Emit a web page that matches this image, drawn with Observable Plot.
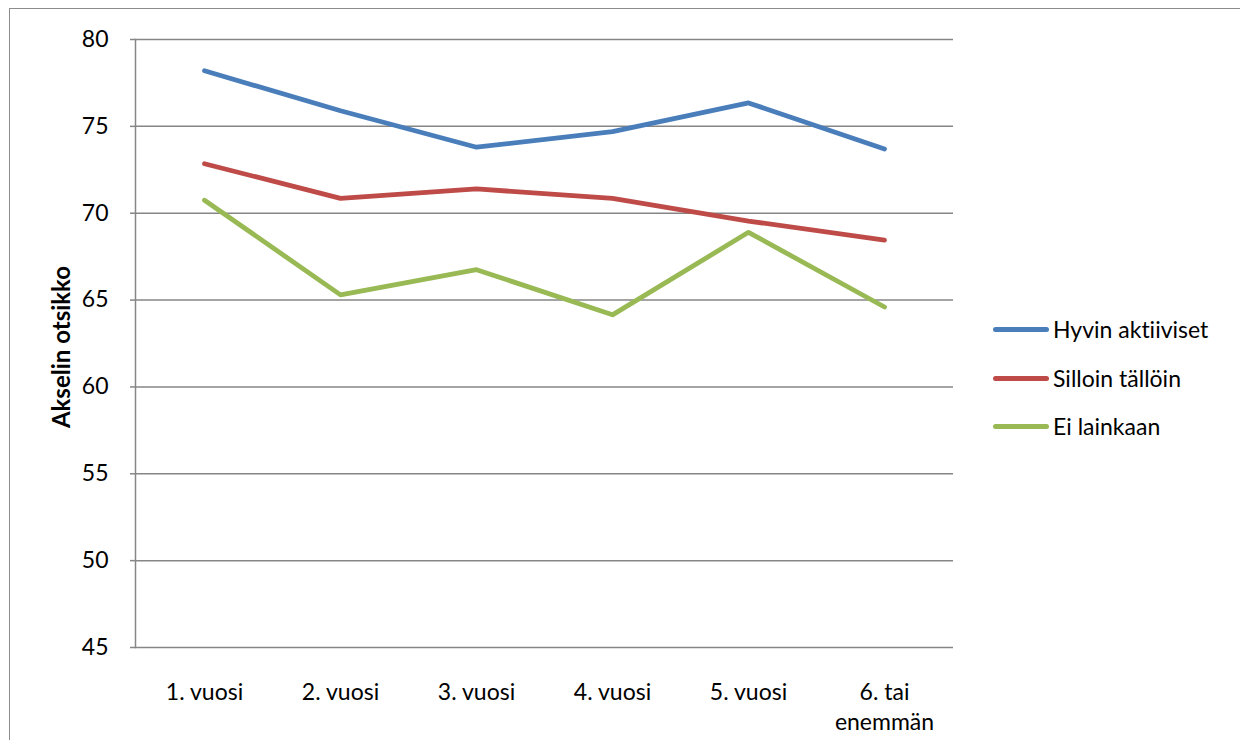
<!DOCTYPE html>
<html>
<head>
<meta charset="utf-8">
<script src="https://cdn.jsdelivr.net/npm/d3@7"></script>
<script src="https://cdn.jsdelivr.net/npm/@observablehq/plot@0.6"></script>
<style>
  html, body { margin: 0; padding: 0; background: #fff; }
  #wrap { position: relative; width: 1240px; height: 740px; overflow: hidden; font-family: Lato, "Noto Sans", sans-serif; font-variant-ligatures: none; font-feature-settings: "liga" 0, "clig" 0; }
  #wrap svg text { font-variant-ligatures: none; font-feature-settings: "liga" 0, "clig" 0; }
  #border { position: absolute; left: 9px; top: 8px; width: 1300px; height: 800px; border-left: 1.5px solid #8c8c8c; border-top: 1.5px solid #8c8c8c; box-sizing: border-box; }
  #chart { position: absolute; left: 0; top: 0; }
  #ytitle { position: absolute; left: 60px; top: 347px; transform: translate(-50%, -50%) rotate(-90deg); font-weight: bold; font-size: 24px; white-space: nowrap; color: #000; }
  .leg { position: absolute; left: 993px; height: 30px; display: flex; align-items: center; font-size: 23px; color: #000; white-space: nowrap; }
  .leg .sw { width: 56px; height: 5px; border-radius: 3px; margin-right: 4px; }
</style>
</head>
<body>
<div id="wrap">
  <div id="border"></div>
  <div id="chart"></div>
  <div id="ytitle">Akselin otsikko</div>
  <div id="legend"></div>
</div>
<script>
const categories = ["1. vuosi", "2. vuosi", "3. vuosi", "4. vuosi", "5. vuosi", "6. tai enemmän"];
const xTickLabels = ["1. vuosi", "2. vuosi", "3. vuosi", "4. vuosi", "5. vuosi", "6. tai\nenemmän"];
const seriesNames = ["Hyvin aktiiviset", "Silloin tällöin", "Ei lainkaan"];
const seriesColors = ["#4A7EBB", "#BE4B48", "#98B954"];
const hyvinAktiiviset = [78.2, 75.9, 73.8, 74.7, 76.35, 73.7];
const silloinTalloin = [72.85, 70.85, 71.4, 70.85, 69.55, 68.45];
const eiLainkaan = [70.75, 65.3, 66.75, 64.15, 68.9, 64.6];
const yTicks = [45, 50, 55, 60, 65, 70, 75, 80];

const seriesValues = [hyvinAktiiviset, silloinTalloin, eiLainkaan];
const data = [];
seriesNames.forEach((s, si) => {
  categories.forEach((c, ci) => data.push({series: s, category: c, value: seriesValues[si][ci]}));
});
const labelOf = new Map(categories.map((c, i) => [c, xTickLabels[i]]));

const chart = Plot.plot({
  width: 1240,
  height: 740,
  marginLeft: 135,
  marginRight: 287,
  marginTop: 39,
  marginBottom: 93,
  style: {fontFamily: "Lato, 'Noto Sans', sans-serif", fontSize: "23px", color: "#000", background: "transparent"},
  x: {type: "point", domain: categories, padding: 0.5},
  y: {domain: [45, 80]},
  color: {domain: seriesNames, range: seriesColors},
  marks: [
    Plot.ruleY(yTicks, {stroke: "#868686", strokeWidth: 1.5, strokeOpacity: 1}),
    Plot.frame({anchor: "left", stroke: "#868686", strokeWidth: 1.5}),
    Plot.axisY({ticks: yTicks, tickSize: 5, tickPadding: 22, stroke: "#868686", strokeWidth: 1.5, label: null, fill: "#000"}),
    Plot.axisX({tickSize: 0, tickPadding: 31, tickFormat: d => labelOf.get(d), lineHeight: 1.3, label: null, fill: "#000"}),
    Plot.line(data, {x: "category", y: "value", z: "series", stroke: "series", strokeWidth: 4.8, strokeLinecap: "round", strokeLinejoin: "round"})
  ]
});
document.getElementById("chart").appendChild(chart);

const legendTops = [329, 378, 426];
const legend = document.getElementById("legend");
seriesNames.forEach((s, i) => {
  const row = document.createElement("div");
  row.className = "leg";
  row.style.top = (legendTops[i] - 15) + "px";
  const sw = document.createElement("div");
  sw.className = "sw";
  sw.style.background = seriesColors[i];
  const tx = document.createElement("span");
  tx.textContent = s;
  row.appendChild(sw);
  row.appendChild(tx);
  legend.appendChild(row);
});
</script>
</body>
</html>
